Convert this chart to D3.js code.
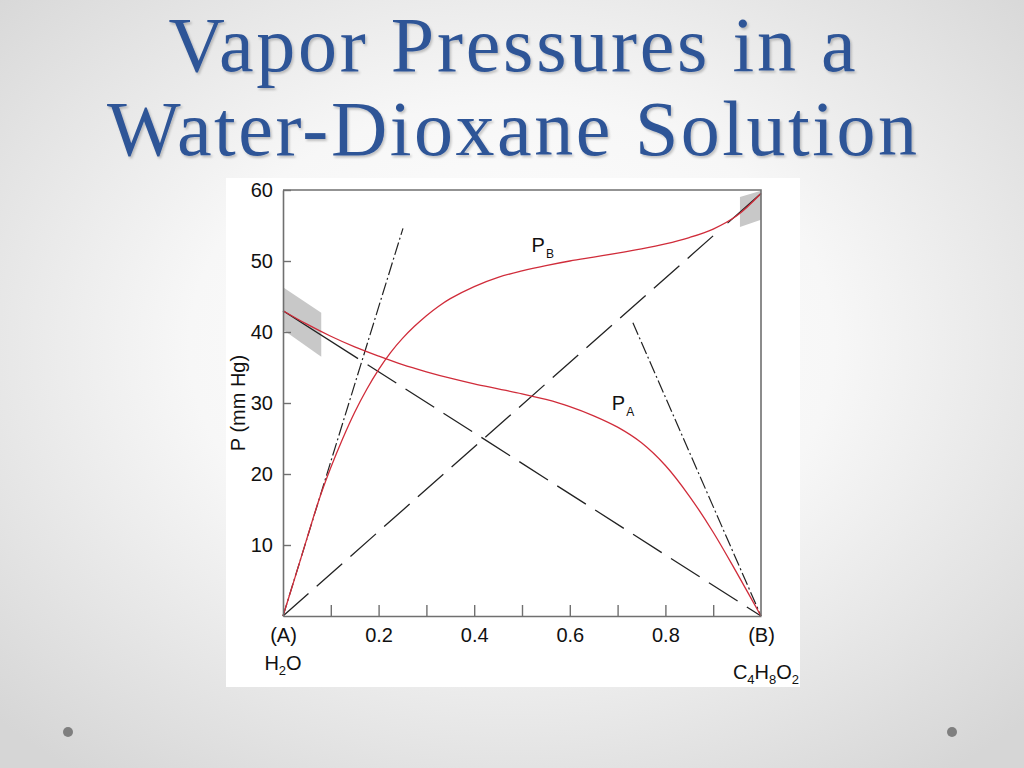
<!DOCTYPE html>
<html>
<head>
<meta charset="utf-8">
<script src="https://cdn.jsdelivr.net/npm/d3@7"></script>
<style>
  html, body { margin: 0; padding: 0; background: #ffffff; }
  svg { display: block; }
</style>
</head>
<body>
<svg id="chart" width="1024" height="768"></svg>
<script>
// ---------------- DATA ----------------
const titleLines = ["Vapor Pressures in a", "Water-Dioxane Solution"];
const yAxisTitle = "P (mm Hg)";
const xTickValues = [0, 0.1, 0.2, 0.3, 0.4, 0.5, 0.6, 0.7, 0.8, 0.9, 1];
const xTickLabels = ["(A)", "", "0.2", "", "0.4", "", "0.6", "", "0.8", "", "(B)"];
const yTickValues = [10, 20, 30, 40, 50, 60];
const yTickLabels = ["10", "20", "30", "40", "50", "60"];

// mole fraction of dioxane (B)
const xA = [0, 0.05, 0.1, 0.15, 0.2, 0.25, 0.3, 0.35, 0.4, 0.45, 0.5, 0.55, 0.6, 0.65, 0.7, 0.75, 0.8, 0.85, 0.9, 0.95, 1];
const pA = [43, 41.1, 39.4, 37.9, 36.6, 35.4, 34.4, 33.5, 32.7, 32.0, 31.3, 30.5, 29.5, 28.2, 26.6, 24.4, 21.2, 16.9, 11.8, 6.0, 0];

const xB = [0, 0.025, 0.05, 0.075, 0.1, 0.125, 0.15, 0.175, 0.2, 0.225, 0.25, 0.275, 0.3, 0.325, 0.35, 0.4, 0.45, 0.5, 0.55, 0.6, 0.65, 0.7, 0.75, 0.8, 0.85, 0.9, 0.95, 1];
const pB = [0, 5.4, 10.9, 16.3, 20.9, 25.0, 28.7, 31.9, 34.7, 37.1, 39.1, 40.8, 42.3, 43.6, 44.7, 46.4, 47.7, 48.6, 49.35, 50.0, 50.55, 51.1, 51.7, 52.4, 53.3, 54.5, 56.4, 59.5];

// ideal (Raoult) lines
const raoultA = [[0, 43], [1, 0]];
const raoultB = [[0, 0], [1, 59.5]];
const raoultASolidEnd = 0.157;
const raoultBSolidStart = 0.93;
// Henry's law lines
const henryB = [[0, 0], [0.251, 54.6]];
const henryA = [[0.732, 41.3], [1, 0]];
// shaded uncertainty bands
const bandA = [[0, 46.3], [0.08, 42.7], [0.08, 36.5], [0, 40.3]];
const bandB = [[0.956, 59.0], [1, 59.9], [1, 55.8], [0.956, 54.8]];

const curveLabels = [
  { main: "P", sub: "B", x: 0.52, y: 51.3 },
  { main: "P", sub: "A", x: 0.688, y: 29.0 }
];

// ---------------- DRAW ----------------
const svg = d3.select("#chart");
const defs = svg.append("defs");

const grad = defs.append("radialGradient").attr("id", "bg")
  .attr("cx", "50%").attr("cy", "45%").attr("r", "70%");
grad.append("stop").attr("offset", "0%").attr("stop-color", "#ffffff");
grad.append("stop").attr("offset", "45%").attr("stop-color", "#f7f7f7");
grad.append("stop").attr("offset", "100%").attr("stop-color", "#d6d6d6");

const shadow = defs.append("filter").attr("id", "tshadow")
  .attr("x", "-5%").attr("y", "-5%").attr("width", "110%").attr("height", "120%");
shadow.append("feDropShadow").attr("dx", 1.5).attr("dy", 2).attr("stdDeviation", 1.2)
  .attr("flood-color", "#000").attr("flood-opacity", 0.22);

svg.append("rect").attr("width", 1024).attr("height", 768).attr("fill", "url(#bg)");

// corner dots
svg.selectAll("circle.dot").data([68, 952]).enter().append("circle")
  .attr("class", "dot").attr("cx", d => d).attr("cy", 732).attr("r", 5)
  .attr("fill", "#7f7f7f");

// title
const titleG = svg.append("g").attr("filter", "url(#tshadow)");
titleG.selectAll("text").data(titleLines).enter().append("text")
  .attr("x", 512)
  .attr("y", (d, i) => i === 0 ? 71 : 155)
  .attr("text-anchor", "middle")
  .attr("font-family", "'Liberation Serif', 'DejaVu Serif', serif")
  .attr("font-size", 78)
  .attr("fill", "#2F5597")
  .attr("textLength", (d, i) => i === 0 ? 687 : 810)
  .attr("lengthAdjust", "spacing")
  .text(d => d);

// white figure panel
svg.append("rect").attr("x", 226).attr("y", 178).attr("width", 574).attr("height", 509)
  .attr("fill", "#ffffff");

const x = d3.scaleLinear().domain([0, 1]).range([283, 761]);
const y = d3.scaleLinear().domain([0, 60]).range([616, 190]);

const g = svg.append("g");
const fontSans = "'Liberation Sans', Arial, sans-serif";

// bands
const poly = d3.line().x(d => x(d[0])).y(d => y(d[1]));
g.selectAll("path.band").data([bandA, bandB]).enter().append("path")
  .attr("class", "band")
  .attr("d", d => poly(d) + "Z")
  .attr("fill", "#c8c8c8");

// Raoult dashed lines
const seg = d3.line().x(d => x(d[0])).y(d => y(d[1]));
function interp(line, t) {
  return [line[0][0] + (line[1][0] - line[0][0]) * t, line[0][1] + (line[1][1] - line[0][1]) * t];
}
g.append("path").attr("d", seg([raoultA[0], interp(raoultA, raoultASolidEnd)]))
  .attr("stroke", "#222").attr("stroke-width", 1.3).attr("fill", "none");
g.append("path").attr("d", seg([interp(raoultA, raoultASolidEnd + 0.02), raoultA[1]]))
  .attr("stroke", "#222").attr("stroke-width", 1.3).attr("fill", "none")
  .attr("stroke-dasharray", "34,11");
g.append("path").attr("d", seg([raoultB[0], interp(raoultB, raoultBSolidStart - 0.02)]))
  .attr("stroke", "#222").attr("stroke-width", 1.3).attr("fill", "none")
  .attr("stroke-dasharray", "34,11");
g.append("path").attr("d", seg([interp(raoultB, raoultBSolidStart), raoultB[1]]))
  .attr("stroke", "#222").attr("stroke-width", 1.3).attr("fill", "none");

// Henry dash-dot lines
g.selectAll("path.henry").data([henryB, henryA]).enter().append("path")
  .attr("class", "henry")
  .attr("d", d => seg(d))
  .attr("stroke", "#222").attr("stroke-width", 1.2).attr("fill", "none")
  .attr("stroke-dasharray", "13,3,2,3");

// red curves
const curve = d3.line().x(d => x(d[0])).y(d => y(d[1])).curve(d3.curveCatmullRom.alpha(0.5));
g.append("path").datum(xA.map((v, i) => [v, pA[i]]))
  .attr("d", curve).attr("stroke", "#d02c3a").attr("stroke-width", 1.3).attr("fill", "none");
g.append("path").datum(xB.map((v, i) => [v, pB[i]]))
  .attr("d", curve).attr("stroke", "#d02c3a").attr("stroke-width", 1.3).attr("fill", "none");

// axes
const axisColor = "#707070";
const xAxis = d3.axisBottom(x).tickValues(xTickValues)
  .tickFormat((d, i) => xTickLabels[i]).tickSize(-11).tickSizeOuter(0).tickPadding(12);
const xg = g.append("g").attr("transform", `translate(0,${y(0)})`).call(xAxis);
xg.select(".domain").attr("stroke", axisColor).attr("stroke-width", 1.6);
xg.selectAll(".tick line").attr("stroke", axisColor).attr("stroke-width", 1.4)
  .attr("display", d => (d === 0 || d === 1) ? "none" : null);
xg.selectAll(".tick text").attr("font-family", fontSans).attr("font-size", 20).attr("fill", "#111");

const yAxis = d3.axisLeft(y).tickValues(yTickValues)
  .tickFormat((d, i) => yTickLabels[i]).tickSize(-8).tickSizeOuter(0).tickPadding(10);
const yg = g.append("g").attr("transform", `translate(${x(0)},0)`).call(yAxis);
yg.select(".domain").attr("stroke", axisColor).attr("stroke-width", 1.6);
yg.selectAll(".tick line").attr("stroke", axisColor).attr("stroke-width", 1.4);
yg.selectAll(".tick text").attr("font-family", fontSans).attr("font-size", 20).attr("fill", "#111");

// frame top and right
g.append("path")
  .attr("d", `M${x(0)},${y(60)}H${x(1)}V${y(0)}`)
  .attr("stroke", axisColor).attr("stroke-width", 1.6).attr("fill", "none");

// y axis title
g.append("text")
  .attr("transform", `translate(245,${y(30)}) rotate(-90)`)
  .attr("text-anchor", "middle")
  .attr("font-family", fontSans).attr("font-size", 20).attr("fill", "#111")
  .text(yAxisTitle);

// compound labels under (A) and (B)
const h2o = g.append("text").attr("x", x(0)).attr("y", 670).attr("text-anchor", "middle")
  .attr("font-family", fontSans).attr("font-size", 20).attr("fill", "#111");
h2o.append("tspan").text("H");
h2o.append("tspan").attr("font-size", 13).attr("dy", 5).text("2");
h2o.append("tspan").attr("dy", -5).text("O");

const diox = g.append("text").attr("x", x(1) + 5).attr("y", 679).attr("text-anchor", "middle")
  .attr("font-family", fontSans).attr("font-size", 20).attr("fill", "#111");
[["C", ""], ["4", "s"], ["H", ""], ["8", "s"], ["O", ""], ["2", "s"]].forEach((p, i) => {
  const t = diox.append("tspan").text(p[0]);
  if (p[1] === "s") { t.attr("font-size", 13).attr("dy", 5); }
  else if (i > 0) { t.attr("dy", -5); }
});

// curve labels
curveLabels.forEach(l => {
  const t = g.append("text").attr("x", x(l.x)).attr("y", y(l.y))
    .attr("font-family", fontSans).attr("font-size", 20).attr("fill", "#111");
  t.append("tspan").text(l.main);
  t.append("tspan").attr("font-size", 12).attr("dx", 1).attr("dy", 6).text(l.sub);
});
</script>
</body>
</html>
